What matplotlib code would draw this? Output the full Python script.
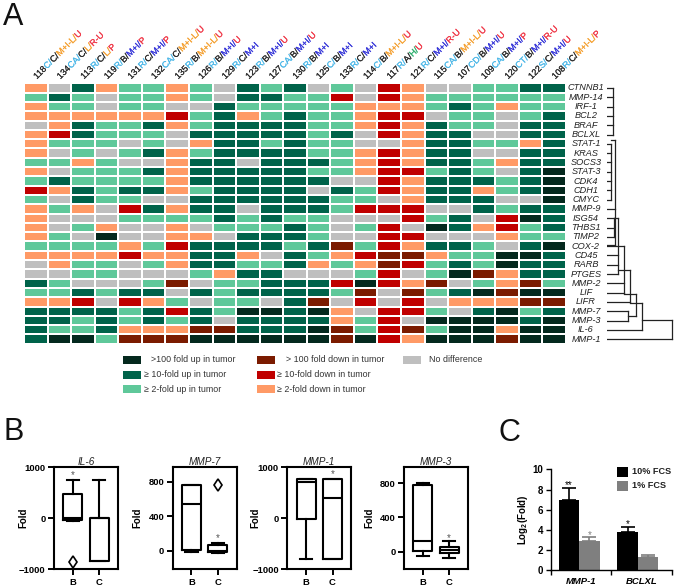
import matplotlib
matplotlib.use("Agg")
import matplotlib.pyplot as plt
import matplotlib.patheffects as pe
from matplotlib.colors import ListedColormap
from matplotlib.patches import Rectangle
import numpy as np

plt.rcParams['font.family'] = ['Liberation Sans', 'DejaVu Sans']
plt.rcParams['mathtext.fontset'] = 'custom'
plt.rcParams['mathtext.bf'] = 'Liberation Sans:bold'
plt.rcParams['mathtext.rm'] = 'Liberation Sans:bold'

W, H = 675, 586

SKY, BLK, ORG, RED, BLU, GRN = '#4DB8E8', '#2A2A2A', '#F5A030', '#F03848', '#3434D8', '#30B070'

# samples, each label is split in coloured parts
sample_labels = [
    [('118', BLK), ('C/', SKY), ('C/', BLK), ('M+I-L/', ORG), ('U', RED)],
    [('134', BLK), ('CA/', SKY), ('C/', BLK), ('L/', ORG), ('R-U', RED)],
    [('113', BLK), ('R/', SKY), ('C/', BLK), ('L/', ORG), ('P', RED)],
    [('119', BLK), ('R/', SKY), ('B/', BLK), ('M+I/', BLU), ('P', RED)],
    [('131', BLK), ('R/', SKY), ('C/', BLK), ('M+I/', BLU), ('P', RED)],
    [('132', BLK), ('CA/', SKY), ('C/', BLK), ('M+I-L/', ORG), ('U', RED)],
    [('135', BLK), ('R/', SKY), ('B/', BLK), ('M+I-L/', ORG), ('U', RED)],
    [('126', BLK), ('R/', SKY), ('B/', BLK), ('M+I/', BLU), ('U', RED)],
    [('129', BLK), ('R/', SKY), ('C/', BLK), ('M+I', BLU)],
    [('123', BLK), ('R/', SKY), ('B/', BLK), ('M+I/', BLU), ('U', RED)],
    [('127', BLK), ('CA/', SKY), ('B/', BLK), ('M+I/', BLU), ('U', RED)],
    [('130', BLK), ('R/', SKY), ('B/', BLK), ('M+I', BLU)],
    [('125', BLK), ('C/', SKY), ('B/', BLK), ('M+I', BLU)],
    [('133', BLK), ('R/', SKY), ('C/', BLK), ('M+I', BLU)],
    [('114', BLK), ('C/', SKY), ('B/', BLK), ('M+I-L/', ORG), ('U', RED)],
    [('117', BLK), ('R/', SKY), ('A/', BLK), ('H/', GRN), ('U', RED)],
    [('121', BLK), ('R/', SKY), ('C/', BLK), ('M+I/', BLU), ('R-U', RED)],
    [('115', BLK), ('CA/', SKY), ('B/', BLK), ('M+I-L/', ORG), ('U', RED)],
    [('107', BLK), ('CD/', SKY), ('B/', BLK), ('M+I/', BLU), ('U', RED)],
    [('109', BLK), ('CA/', SKY), ('B/', BLK), ('M+I/', BLU), ('P', RED)],
    [('120', BLK), ('CT/', SKY), ('B/', BLK), ('M+I/', BLU), ('R-U', RED)],
    [('122', BLK), ('S/', SKY), ('C/', BLK), ('M+I/', BLU), ('U', RED)],
    [('108', BLK), ('R/', SKY), ('C/', BLK), ('M+I-L/', ORG), ('P', RED)],
]

genes = ['CTNNB1', 'MMP-14', 'IRF-1', 'BCL2', 'BRAF', 'BCLXL', 'STAT-1', 'KRAS', 'SOCS3',
         'STAT-3', 'CDK4', 'CDH1', 'CMYC', 'MMP-9', 'ISG54', 'THBS1', 'TIMP2', 'COX-2',
         'CD45', 'RARB', 'PTGES', 'MMP-2', 'LIF', 'LIFR', 'MMP-7', 'MMP-3', 'IL-6', 'MMP-1']

# D >100 up, G >=10 up, L >=2 up, N none, O >=2 down, R >=10 down, B >100 down
heat_rows = [
    'ONGOLLOLNGLGNLNRONNLLGG',
    'LGLNLLOLNGGLLRNROLLLLLL',
    'OLLNLLNNGLLLLLOOOLGLOLL',
    'OOOOOORLGOLGLLORRNLLNLG',
    'NOGLLGOLGGGGLLOROGLLNGG',
    'ORGLLLNGGGGGLGNROGGNNGG',
    'OLLLNLNOGGLGLLNNOGGLLOG',
    'ONLNLGOLGGGGLLOROGGNNGG',
    'LLOLNNOGGNGGGLOROGGLOGG',
    'ONLLLGOGGGGGLLORRLGLNGD',
    'LGLLLLOGGGGGGNNROGGGLGD',
    'ROGLGGOLGGGGNGLROGGOLGD',
    'LNGLLNNGGGGGGLLNOGGGNND',
    'OLONRGOGGNGGGLRRRNNGLGG',
    'ONNNLLLLGLGLLNNNRLGNRDG',
    'ONLONNONLLLGLNLRNDGORLG',
    'OLNDNNOONGGGLNNRRNNNOLL',
    'LLLLOLRGGGGLGBLROGGLNGD',
    'OOOOROOGGONGLORBBOLLDDG',
    'NOLLNLOGGLLGOLOBRLGLDGG',
    'NNLLNNNLOGGNNNLRNLDBOGG',
    'GLNNNLBNLLGGGRDROBNLOBL',
    'LLGLGGNGLGGGGLBNBLGDBDD',
    'OORNROLNLLNGBNRNRNOOOBB',
    'GGGGLGRGLDDGDONRRLNGDLG',
    'GGLGLGLGNGGGGOLRNDDDDGD',
    'GLLGOOOBBGGGDBLRBLDDODD',
    'GDDLBBBDDDDDDBDRODDDBDD',
]

code_order = 'DGLNORB'
code_colors = ['#04291E', '#00634A', '#5FC89A', '#BFBFBF', '#FF9A66', '#C00000', '#7B1B00']

legend_labels = [
    ['>100 fold up in tumor', '\u2265 10-fold up in tumor', '\u2265 2-fold up in tumor'],
    ['> 100 fold down in tumor', '\u2265 10-fold down in tumor', '\u2265 2-fold down in tumor'],
    ['No difference'],
]
legend_codes = ['DGL', 'BRO', 'N']

# dendrogram: (height, [(row, start height), ...])
dendro_links = [
    (5.7, [(0, 0), (1, 0), (2, 0), (3, 0), (4, 0), (5, 0)]),
    (3.7, [(6, 0), (7, 0), (8, 0), (9, 0), (10, 0), (11, 0), (12, 0)]),
    (8.0, [(5.56, 3.7), (13, 0), (16.9, 0)]),
    (7.0, [(14, 0), (15, 0), (16, 0)]),
    (11.3, [(14, 7), (18, 0), (19, 0), (20, 0)]),
    (17.3, [(17, 0), (21, 0), (22, 0)]),
    (23.0, [(19.6, 11.3), (23, 0)]),
    (21.3, [(24, 0), (25, 0)]),
    (28.7, [(22.1, 17.3), (24.5, 21.3)]),
    (34.7, [(23.15, 23), (26, 0)]),
    (64.7, [(24.95, 34.7), (27, 0)]),
]

# box panels: title, yticks, ylim, stats for B and C, star (group, y)
box_panels = [
    ('IL-6', [-1000, 0, 1000], (-1000, 1000),
     [(-60, -30, 0, 470, 750, [-850]), (-830, -830, 0, 0, 750, [])], (0, 850)),
    ('MMP-7', [0, 400, 800], (-218, 971),
     [(-20, 10, 545, 760, 760, []), (-30, -20, 0, 70, 85, [760])], (1, 150)),
    ('MMP-1', [-1000, 0, 1000], (-1000, 1000),
     [(-800, -20, 720, 780, 780, []), (-800, -800, 400, 780, 780, [])], (1, 860)),
    ('MMP-3', [0, 400, 800], (-205, 985),
     [(-50, 10, 130, 780, 800, []), (-70, -10, 15, 55, 120, [])], (1, 165)),
]
box_left = [54, 172.7, 287.3, 404]
box_label_x = [28, 142.7, 260, 374]
box_width = 64

# bars panel
bar_groups = ['MMP-1', 'BCLXL']
bar_series = ['10% FCS', '1% FCS']
bar_colors = ['black', '#7F7F7F']
bar_10 = [7.0, 3.75]
bar_1 = [2.9, 1.35]
err_10 = [1.15, 0.55]
err_1 = [0.35, 0.2]


def add_axes_px(x0, y0, x1, y1):
    """axes from pixel box, y counted from the top"""
    return fig.add_axes([x0 / W, 1 - y1 / H, (x1 - x0) / W, (y1 - y0) / H])


def px_text(x, y, s, **kw):
    return fig.text(x / W, 1 - y / H, s, **kw)


fig = plt.figure(figsize=(W / 100, H / 100), dpi=100)
renderer = fig.canvas.get_renderer()

# heatmap
ax = add_axes_px(24, 83.35, 566, 343.8)
grid = np.array([[code_order.index(c) for c in r] for r in heat_rows])
ax.pcolormesh(grid, cmap=ListedColormap(code_colors), vmin=-0.5, vmax=6.5,
              edgecolors='white', linewidth=1.2)
ax.set_ylim(len(genes), 0)
ax.axis('off')

# gene names
for i, g in enumerate(genes):
    px_text(586, 88 + 9.3 * i, g, ha='center', va='center', style='italic',
            fontsize=6.6, color='#222222')

# sample names, rotated by parts
col_w = (566 - 24) / len(sample_labels)
for i, parts in enumerate(sample_labels):
    x = 24 + col_w * (i + 0.5) + 1
    y = 79.5
    for s, c in parts:
        t = px_text(x, y, s, color=c, fontsize=6.4, rotation=0, ha='left', va='baseline')
        w = t.get_window_extent(renderer).width
        t.set_rotation(45)
        t.set_rotation_mode('anchor')
        t.set_path_effects([pe.withStroke(linewidth=0.12, foreground=c)])
        x += w * np.cos(np.pi / 4)
        y -= w * np.sin(np.pi / 4)

# dendrogram
dax = add_axes_px(607, 83.35, 675, 343.8)
for h, legs in dendro_links:
    rows = [r + 0.5 for r, _ in legs]
    dax.plot([h, h], [min(rows), max(rows)], color='#222222', lw=0.9, solid_capstyle='projecting')
    for r, start in legs:
        dax.plot([start, h], [r + 0.5, r + 0.5], color='#222222', lw=0.9)
dax.set_xlim(0, 68)
dax.set_ylim(len(genes), 0)
dax.axis('off')

# overlay for legends, above the other axes
lax = add_axes_px(0, 0, W, H)
lax.set_xlim(0, W)
lax.set_ylim(H, 0)
lax.axis('off')
lax.set_zorder(10)
swatch_x = [123, 257, 403]
text_x = [[151, 144, 144], [286, 277, 277], [429]]
row_y = [359.5, 374.5, 389]
for k, labels in enumerate(legend_labels):
    for j, lab in enumerate(labels):
        col = code_colors[code_order.index(legend_codes[k][j])]
        lax.add_patch(Rectangle((swatch_x[k], row_y[j] - 4), 18, 8, color=col, lw=0))
        lax.text(text_x[k][j], row_y[j], lab, fontsize=6.4, va='center', color='#333333')

# panel letters
px_text(3, 25, 'A', fontsize=22, va='baseline', color='#111111')
px_text(4, 440, 'B', fontsize=22, va='baseline', color='#111111')
px_text(499, 441, 'C', fontsize=22, va='baseline', color='#111111')

# box plots
for left, lab_x, (title, yticks, ylim, stats, star) in zip(box_left, box_label_x, box_panels):
    bax = add_axes_px(left, 467.3, left + box_width, 569.3)
    bxp_stats = []
    for name, st in zip(['B', 'C'], stats):
        bxp_stats.append({'label': name, 'whislo': st[0], 'q1': st[1], 'med': st[2],
                          'q3': st[3], 'whishi': st[4], 'fliers': st[5]})
    line = {'color': 'black', 'linewidth': 1.5}
    bax.bxp(bxp_stats, positions=[1, 2], widths=0.72, capwidths=0.46,
            boxprops=line, medianprops=line, whiskerprops=line, capprops=line,
            flierprops={'marker': 'd', 'markerfacecolor': 'white', 'markeredgecolor': 'black',
                        'markersize': 6, 'markeredgewidth': 1.2})
    bax.set_xlim(0.29, 2.71)
    bax.set_ylim(*ylim)
    bax.set_yticks(yticks)
    bax.tick_params(axis='both', width=1.4, length=4, pad=2, labelsize=6.8)
    for lab in bax.get_xticklabels() + bax.get_yticklabels():
        lab.set_fontweight('bold')
    for sp in bax.spines.values():
        sp.set_linewidth(1.5)
    bax.set_title(title, style='italic', fontsize=7.2, pad=1.5, color='#222222')
    bax.set_ylabel('Fold', fontweight='bold', fontsize=7)
    bax.yaxis.set_label_coords((lab_x - left) / box_width, 0.5)
    bax.text(star[0] + 1, star[1], '*', ha='center', va='center', fontsize=7, color='#555555')

# bar panel
cax = add_axes_px(550.7, 469.3, 671.7, 570.3)
centers = np.array([0.47, 1.44])
off = 0.17
cax.bar(centers - off, bar_10, 0.34, color=bar_colors[0], yerr=[[0, 0], err_10],
        error_kw={'ecolor': 'black', 'elinewidth': 1.2, 'capsize': 5, 'capthick': 1.2})
cax.bar(centers + off, bar_1, 0.34, color=bar_colors[1], yerr=[[0, 0], err_1],
        error_kw={'ecolor': bar_colors[1], 'elinewidth': 1.2, 'capsize': 5, 'capthick': 1.2})
cax.set_xlim(0, 2)
cax.set_ylim(0, 10)
cax.set_yticks(range(0, 11, 2))
cax.set_xticks([0, 1, 2])
cax.set_xticklabels(['', '', ''])
cax.set_xticks([0.5, 1.5], bar_groups, minor=True)
cax.tick_params(axis='x', which='minor', length=0, labelsize=6.8, pad=5)
cax.tick_params(axis='both', which='major', width=1, length=3.5, pad=2)
cax.tick_params(axis='y', labelsize=7)
for lab in cax.get_yticklabels():
    lab.set_fontweight('bold')
for lab in cax.get_xminorticklabels():
    lab.set_fontweight('bold')
    lab.set_style('italic')
for s in ['top', 'right']:
    cax.spines[s].set_visible(False)
for s in ['left', 'bottom']:
    cax.spines[s].set_linewidth(1)
cax.set_ylabel(r'$\mathbf{Log_2(Fold)}$', fontsize=7, labelpad=2)
cax.text(centers[0] - off, 8.45, '**', ha='center', va='center', fontsize=7)
cax.text(centers[0] + off, 3.5, '*', ha='center', va='center', fontsize=7, color='#808080')
cax.text(centers[1] - off, 4.6, '*', ha='center', va='center', fontsize=7)

# bar legend
for name, col, y in zip(bar_series, bar_colors, [471.7, 485.7]):
    lax.add_patch(Rectangle((617.3, y - 5), 10.7, 10, color=col, lw=0))
    lax.text(632, y, name, fontsize=6.6, fontweight='bold', va='center', color='#222222')

fig.savefig('out.png', dpi=100)
